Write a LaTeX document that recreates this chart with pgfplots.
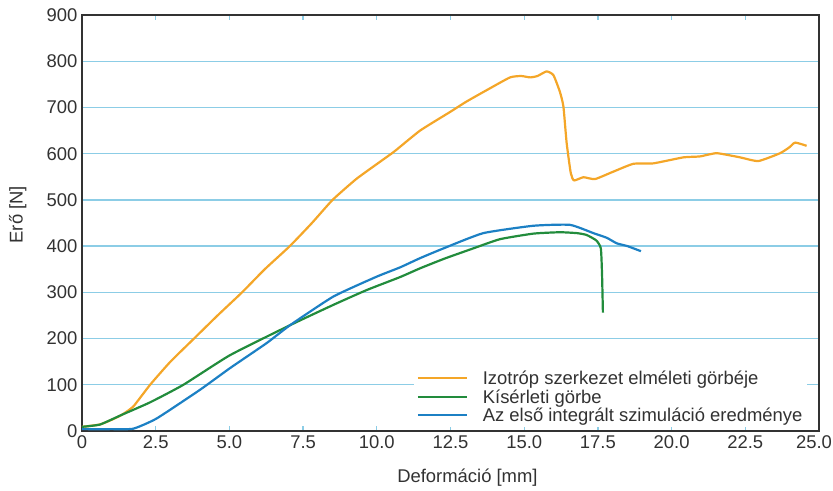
\documentclass[border=0pt]{standalone}
\usepackage{pgfplots}
\pgfplotsset{compat=1.18}
\usepackage{fontspec}
\setmainfont{Liberation Sans}
\definecolor{corange}{RGB}{244,166,40}
\definecolor{cgreen}{RGB}{34,140,60}
\definecolor{cblue}{RGB}{28,128,196}
\definecolor{cgrid}{RGB}{140,205,230}
\definecolor{caxis}{RGB}{50,50,50}
\begin{document}
\begin{tikzpicture}
\begin{axis}[
  scale only axis, width=737bp, height=416bp,
  xmin=0, xmax=25, ymin=0, ymax=900,
  axis line style={caxis, line width=1.5bp},
  xtick={0,2.5,5,7.5,10,12.5,15,17.5,20,22.5,25},
  xticklabels={0,2.5,5.0,7.5,10.0,12.5,15.0,17.5,20.0,22.5,25.0\kern10bp},
  ytick={0,100,...,900},
  tick align=inside,
  major tick length=5bp,
  xtick style={cgrid, line width=1.3bp},
  ytick style={draw=none},
  ymajorgrids, grid style={cgrid, line width=1.3bp},
  tick label style={font=\fontsize{18.5}{20}\selectfont, text=caxis},
  /pgf/number format/assume math mode=true,
  xticklabel style={yshift=-1bp},
  yticklabel style={xshift=-1bp},
  xlabel={Deformáció [mm]},
  ylabel={Erő [N]},
  label style={font=\fontsize{18.5}{20}\selectfont, text=caxis},
  xlabel style={at={(axis description cs:0.523,0)}, anchor=center, yshift=-47bp},
  ylabel style={at={(axis description cs:-0.087,0.52)}, anchor=center},
  legend style={at={(axis description cs:0.45,0.008)}, anchor=south west,
    draw=none, fill=white, font=\fontsize{18.5}{19}\selectfont, text=caxis,
    row sep=-0.5bp, inner xsep=3bp, inner ysep=2bp,
    /tikz/every odd column/.append style={column sep=13bp}},
  legend cell align=left,
  legend image code/.code={\draw[#1, line width=2bp, yshift=0.5bp] (0bp,0bp) -- (49bp,0bp);},
  every axis plot/.append style={line width=2.2bp, line join=round},
]
\addplot[corange, smooth, tension=0.3] coordinates {
(0,9) (0.6,14) (1.0,24) (1.35,35) (1.74,53) (2.31,100) (3.0,150) (3.8,200) (4.6,250) (5.43,300)
(6.2,350) (7.05,400) (7.8,450) (8.5,500) (9.3,545) (10.1,582) (10.6,605) (11.47,650) (12.48,690)
(13.05,713) (13.8,740) (14.52,765) (14.9,768) (15.2,765) (15.45,768) (15.76,778) (15.99,770)
(16.21,734) (16.33,702) (16.44,623) (16.58,558) (16.69,542) (17.01,549) (17.40,545) (18.02,561)
(18.70,578) (19.38,579) (20.40,592) (20.96,594) (21.53,601) (22.32,592) (22.94,584) (23.68,601)
(24.0,614) (24.19,624) (24.58,617)
};
\addlegendentry{Izotróp szerkezet elméleti görbéje}
\addplot[cgreen, smooth, tension=0.3] coordinates {
(0,9) (0.61,14) (1.35,35) (2.31,62) (3.44,100) (5.02,164) (7.06,229) (8.53,273) (9.66,305)
(10.79,333) (11.47,352) (12.3,373) (13.27,395) (14.18,415) (15.31,427) (16.21,430) (16.8,428)
(17.12,424) (17.45,412) (17.6,395) (17.64,340) (17.67,256)
};
\addlegendentry{Kísérleti görbe}
\addplot[cblue, smooth, tension=0.3] coordinates {
(0,4) (1.0,4) (1.74,5) (2.53,27) (4.0,89) (5.02,136) (6.26,190) (7.06,229) (8.53,291) (10.0,334)
(10.79,354) (11.47,374) (12.26,395) (13.61,428) (15.31,444) (16.55,446) (17.35,428) (17.8,418)
(18.14,406) (18.5,400) (18.96,389)
};
\addlegendentry{Az első integrált szimuláció eredménye}
\end{axis}
\pgfresetboundingbox
\path ([shift={(-82bp,-60bp)}]current axis.south west) rectangle ([shift={(14bp,15bp)}]current axis.north east);
\end{tikzpicture}
\end{document}
